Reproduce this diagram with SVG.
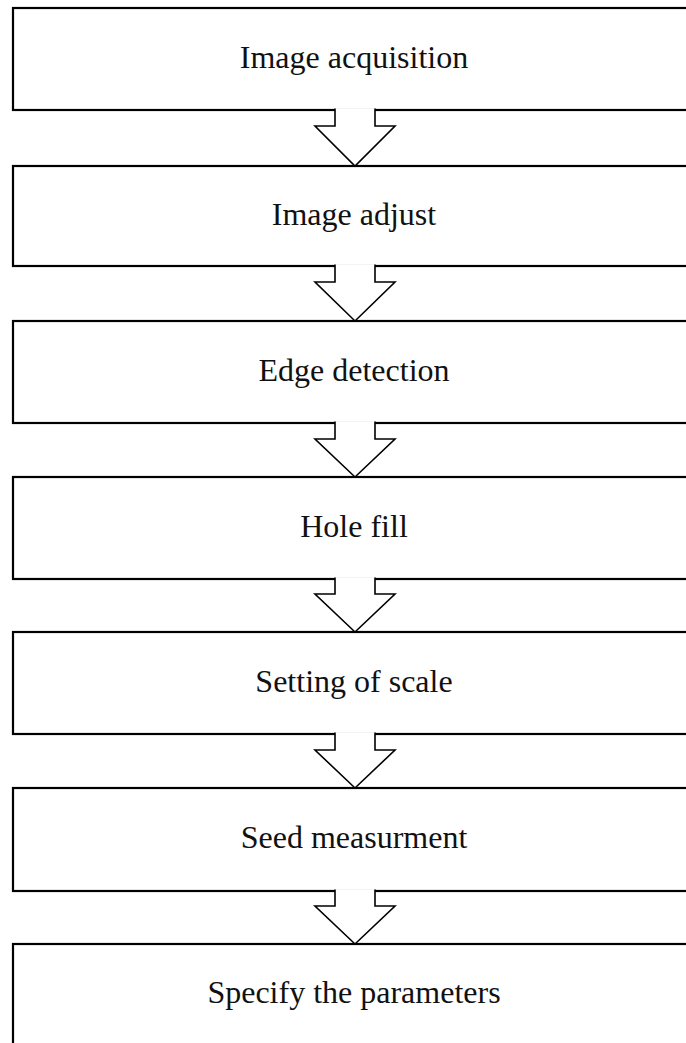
<svg xmlns="http://www.w3.org/2000/svg" width="686" height="1043" viewBox="0 0 686 1043">
<style>
.box{fill:#fff;stroke:#000;stroke-width:2.2}
.lbl{font-family:"Liberation Serif","Times New Roman",serif;font-size:32px;fill:#111;text-anchor:middle}
.arr{fill:#fff;stroke:#000;stroke-width:1.6;stroke-linejoin:miter}
</style>
<rect width="686" height="1043" fill="#fff"/>
<g id="n1"><rect class="box" x="13" y="8" width="684" height="102"/><text class="lbl" x="354" y="68">Image acquisition</text></g>
<g id="n2"><rect class="box" x="13" y="166" width="684" height="100"/><text class="lbl" x="354" y="225">Image adjust</text></g>
<g id="n3"><rect class="box" x="13" y="321" width="684" height="102"/><text class="lbl" x="354" y="381">Edge detection</text></g>
<g id="n4"><rect class="box" x="13" y="477" width="684" height="102"/><text class="lbl" x="354" y="537">Hole fill</text></g>
<g id="n5"><rect class="box" x="13" y="632" width="684" height="102"/><text class="lbl" x="354" y="692">Setting of scale</text></g>
<g id="n6"><rect class="box" x="13" y="788" width="684" height="103"/><text class="lbl" x="354" y="848">Seed measurment</text></g>
<g id="n7"><rect class="box" x="13" y="944" width="684" height="102"/><text class="lbl" x="354" y="1003">Specify the parameters</text></g>
<g id="connectors">
<path class="arr" d="M335,108.5 V126 H315 L355,166 L395,126 H375 V108.5"/>
<path class="arr" d="M335,264.5 V282 H315 L355,321 L395,282 H375 V264.5"/>
<path class="arr" d="M335,421.5 V439 H315 L355,477 L395,439 H375 V421.5"/>
<path class="arr" d="M335,577.5 V594 H315 L355,632 L395,594 H375 V577.5"/>
<path class="arr" d="M335,732.5 V750 H315 L355,788 L395,750 H375 V732.5"/>
<path class="arr" d="M335,889.5 V906 H315 L355,944 L395,906 H375 V889.5"/>
</g>
</svg>
